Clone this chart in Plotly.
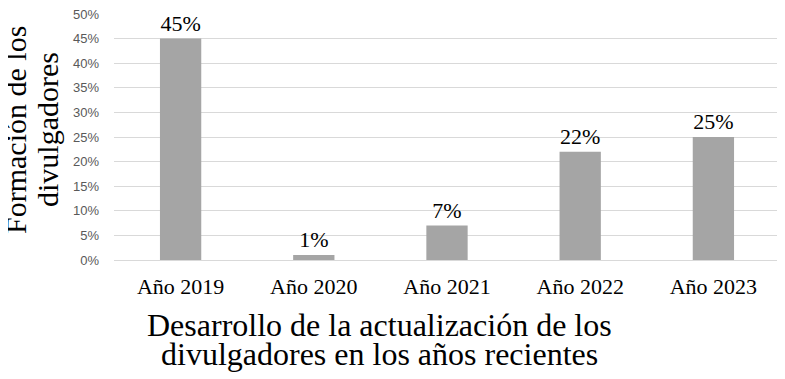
import plotly.graph_objects as go

categories = ["Año 2019", "Año 2020", "Año 2021", "Año 2022", "Año 2023"]
values = [0.45, 0.01, 0.07, 0.22, 0.25]
y_title_lines = ["Formación de los", "divulgadores"]
x_title_lines = ["Desarrollo de la actualización de los", "divulgadores en los años recientes"]

serif = "Liberation Serif, Times New Roman, serif"

# the page body has an 8px default margin; compensate so the figure lands at 0,0
OFF = 8
L, T, W, H = 114 - OFF, 14 - OFF, 666, 246
FW, FH = 785 - OFF, 379 - OFF

fig = go.Figure(go.Bar(
    x=categories, y=values,
    marker=dict(color="#a5a5a5", line=dict(width=0)),
    texttemplate="%{y:.0%}", textposition="outside",
    textfont=dict(family=serif, size=22, color="#000000"),
    cliponaxis=False,
))

def px_x(px):
    return (px - OFF - L) / W

def px_y(py):
    return 1 - (py - OFF - T) / H

annotations = []
for line, cx in zip(y_title_lines, [15, 47]):
    annotations.append(dict(text=line, textangle=-90, xref="paper", yref="paper",
                            x=px_x(cx), y=px_y(130), xanchor="center", yanchor="middle",
                            showarrow=False, font=dict(family=serif, size=30, color="#000000")))
for line, cy in zip(x_title_lines, [325, 354]):
    annotations.append(dict(text=line, xref="paper", yref="paper",
                            x=px_x(379), y=px_y(cy), xanchor="center", yanchor="middle",
                            showarrow=False, font=dict(family=serif, size=32, color="#000000")))

fig.update_layout(
    width=FW, height=FH,
    margin=dict(l=L, r=FW - L - W, t=T, b=FH - T - H, autoexpand=False),
    paper_bgcolor="white", plot_bgcolor="white",
    bargap=0.69,
    showlegend=False,
    xaxis=dict(
        tickfont=dict(family=serif, size=22, color="#000000"),
        showline=True, linecolor="#d9d9d9", linewidth=1,
        ticklabelstandoff=7, automargin=False,
    ),
    yaxis=dict(
        range=[0, 0.5], dtick=0.05, tickformat=".0%",
        tickfont=dict(family="Liberation Sans, Arial, sans-serif", size=13, color="#595959"),
        gridcolor="#d9d9d9", gridwidth=1, zeroline=False,
        ticklabelstandoff=14, automargin=False, ticklabeloverflow="allow",
    ),
    annotations=annotations,
)

fig.write_html("out.html")
